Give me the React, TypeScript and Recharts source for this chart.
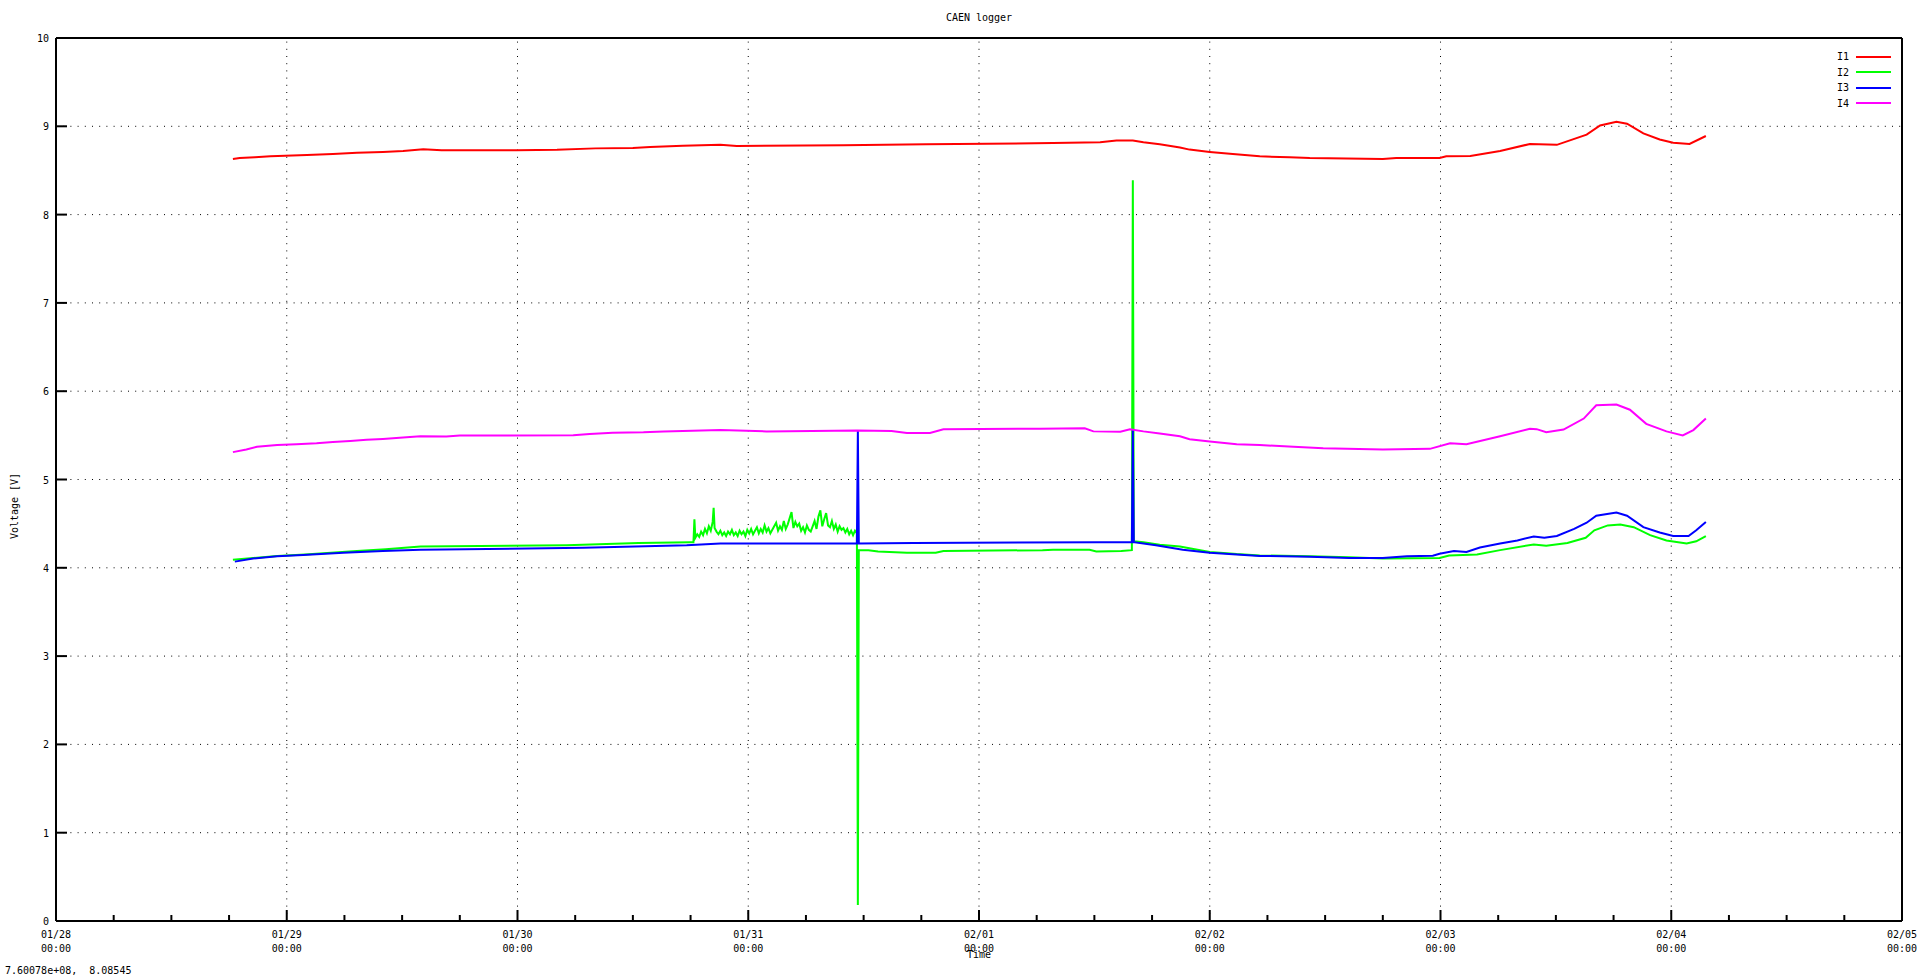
import { LineChart, Line, XAxis, YAxis, ReferenceLine, Legend } from "recharts";

// Time is kept as hours since 01/28 00:00.
const DAY_LABELS = ["01/28", "01/29", "01/30", "01/31", "02/01", "02/02", "02/03", "02/04", "02/05"];
const X_TICKS = [
  0, 6, 12, 18, 24, 30, 36, 42, 48, 54, 60, 66, 72, 78, 84, 90, 96, 102, 108, 114, 120,
  126, 132, 138, 144, 150, 156, 162, 168, 174, 180, 186, 192,
];
const Y_TICKS = [0, 1, 2, 3, 4, 5, 6, 7, 8, 9, 10];
const DAY_GRID = [24, 48, 72, 96, 120, 144, 168];
const VOLT_GRID = [1, 2, 3, 4, 5, 6, 7, 8, 9];

const i1Time = [
  18.4, 19.1, 20.7, 22.3, 26.1, 28.8, 31.3, 34.0, 36.1, 38.2, 40.1, 47.9, 52.1, 56.1, 60.0, 61.8,
  65.2, 69.1, 70.8, 81.9, 90.5, 103.7, 108.6, 110.3, 112.0, 113.1, 114.8, 116.9, 117.9, 120.0,
  122.4, 125.2, 128.3, 130.4, 138.0, 139.4, 143.9, 144.6, 147.1, 150.2, 153.3, 156.1, 159.2,
  160.6, 162.3, 163.4, 165.1, 166.8, 168.2, 169.9, 171.6,
];
const i1Volt = [
  8.63, 8.64, 8.65, 8.66, 8.675, 8.686, 8.7, 8.71, 8.72, 8.74, 8.73, 8.73, 8.735, 8.75, 8.755,
  8.765, 8.78, 8.79, 8.777, 8.785, 8.796, 8.81, 8.82, 8.838, 8.84, 8.82, 8.796, 8.76, 8.736, 8.71,
  8.686, 8.66, 8.65, 8.64, 8.63, 8.64, 8.64, 8.66, 8.665, 8.72, 8.8, 8.79, 8.906, 9.01, 9.05,
  9.03, 8.92, 8.85, 8.815, 8.8, 8.89,
];

const i2Time = [
  18.4, 23.0, 25.9, 31.3, 34.3, 37.9, 53.1, 60.6, 66.0,
  66.3, 66.4, 66.5, 66.7, 66.9, 67.1, 67.3, 67.5, 67.7, 67.9, 68.1, 68.3, 68.4, 68.5, 68.7, 68.9,
  69.1, 69.3, 69.5, 69.7, 69.9, 70.1, 70.3, 70.5, 70.7, 70.9, 71.1, 71.3, 71.5, 71.7, 71.9, 72.1,
  72.3, 72.5, 72.7, 72.9, 73.1, 73.3, 73.5, 73.7, 73.9, 74.1, 74.3, 74.5, 74.7, 74.9, 75.1, 75.3,
  75.5, 75.7, 75.9, 76.1, 76.3, 76.5, 76.7, 76.9, 77.1, 77.3, 77.5, 77.7, 77.9, 78.1, 78.3, 78.5,
  78.7, 78.9, 79.1, 79.3, 79.5, 79.7, 79.9, 80.1, 80.3, 80.5, 80.7, 80.9, 81.1, 81.3, 81.5, 81.7,
  81.9, 82.1, 82.3, 82.5, 82.7, 82.9, 83.1,
  83.3, 83.4, 83.5, 84.5, 85.5, 88.5, 91.5, 92.3, 102.6, 103.7, 107.5, 108.2, 110.8, 111.9, 112.0,
  112.1, 113.1, 114.8, 116.9, 120.0, 122.8, 125.2, 130.4, 134.5, 138.0, 143.9, 144.9, 147.8,
  150.2, 153.7, 155.0, 157.2, 159.1, 160.0, 161.4, 162.7, 164.1, 165.8, 167.5, 169.6, 170.6, 171.6,
];
const i2Volt = [
  4.09, 4.135, 4.15, 4.19, 4.21, 4.24, 4.255, 4.28, 4.29,
  4.29, 4.55, 4.34, 4.38, 4.35, 4.41, 4.37, 4.44, 4.39, 4.47, 4.42, 4.52, 4.68, 4.45, 4.41, 4.38,
  4.42, 4.37, 4.4, 4.36, 4.41, 4.38, 4.43, 4.37, 4.4, 4.36, 4.42, 4.38, 4.41, 4.36, 4.43, 4.39,
  4.44, 4.38, 4.42, 4.46, 4.39, 4.44, 4.4, 4.48, 4.41, 4.45, 4.39, 4.43, 4.47, 4.51, 4.42, 4.47,
  4.43, 4.53, 4.44, 4.49, 4.56, 4.63, 4.45, 4.52, 4.47, 4.5, 4.42, 4.46, 4.4, 4.48, 4.43, 4.41,
  4.47, 4.53, 4.44, 4.58, 4.65, 4.47, 4.55, 4.62, 4.48, 4.46, 4.53, 4.44, 4.49, 4.41, 4.47, 4.43,
  4.45, 4.4, 4.44, 4.38, 4.42, 4.37, 4.42,
  4.39, 0.18, 4.2, 4.2, 4.185, 4.17, 4.17, 4.19, 4.2, 4.205, 4.205, 4.185, 4.19, 4.2, 8.39,
  4.3, 4.29, 4.26, 4.24, 4.18, 4.155, 4.14, 4.13, 4.12, 4.105, 4.11, 4.14, 4.15,
  4.2, 4.265, 4.25, 4.28, 4.34, 4.425, 4.48, 4.49, 4.46, 4.37, 4.31, 4.275, 4.3, 4.36,
];

const i3Time = [
  18.6, 20.5, 23.0, 25.7, 29.9, 34.0, 37.9, 54.8, 65.6, 69.1, 83.3, 83.4, 83.5, 89.2, 108.3,
  111.9, 112.0, 112.1, 114.4, 117.2, 120.0, 122.8, 125.2, 130.4, 134.5, 138.0, 140.5, 143.2,
  143.9, 145.4, 146.7, 148.1, 150.2, 152.0, 153.7, 154.8, 156.1, 157.9, 159.2, 160.2, 162.3,
  163.4, 165.1, 166.8, 168.2, 169.8, 170.6, 171.6,
];
const i3Volt = [
  4.07, 4.105, 4.13, 4.145, 4.17, 4.19, 4.205, 4.227, 4.255, 4.275, 4.275, 5.55, 4.275, 4.28, 4.29,
  4.29, 5.57, 4.29, 4.255, 4.205, 4.17, 4.15, 4.135, 4.125, 4.11, 4.11, 4.13, 4.136,
  4.16, 4.19, 4.18, 4.23, 4.275, 4.31, 4.355, 4.34, 4.36, 4.44, 4.51, 4.59, 4.625,
  4.59, 4.46, 4.4, 4.36, 4.36, 4.425, 4.52,
];

const i4Time = [
  18.4, 19.8, 20.9, 23.0, 25.0, 27.1, 28.8, 30.6, 32.3, 34.0, 36.1, 37.9, 40.6, 42.0, 53.8, 55.5,
  57.9, 61.1, 63.2, 65.2, 69.1, 73.9, 83.3, 86.9, 88.5, 90.9, 92.3, 102.3, 107.0, 107.9, 110.7,
  111.7, 113.1, 114.8, 116.9, 117.9, 120.0, 122.8, 125.2, 128.7, 131.8, 138.0, 142.9, 145.0,
  146.7, 150.2, 153.3, 154.0, 155.0, 156.8, 158.9, 160.2, 162.3, 163.7, 165.4, 167.5, 169.2,
  170.3, 171.6,
];
const i4Volt = [
  5.31, 5.34, 5.37, 5.39, 5.4, 5.41, 5.425, 5.436, 5.45, 5.46, 5.475, 5.49, 5.487, 5.497, 5.5, 5.515,
  5.53, 5.535, 5.545, 5.55, 5.56, 5.545, 5.556, 5.55, 5.526, 5.526, 5.57, 5.575, 5.58, 5.545, 5.54,
  5.57, 5.545, 5.52, 5.49, 5.455, 5.43, 5.4, 5.39, 5.37, 5.355, 5.34, 5.347, 5.41,
  5.4, 5.49, 5.575, 5.57, 5.535, 5.565, 5.69, 5.84, 5.85, 5.79, 5.63, 5.545, 5.5,
  5.56, 5.69,
];

const zip = (ts: number[], vs: number[]) => ts.map((t, i) => ({ t, v: vs[i] }));

const SERIES = [
  { name: "I1", color: "#ff0000", data: zip(i1Time, i1Volt) },
  { name: "I2", color: "#00ff00", data: zip(i2Time, i2Volt) },
  { name: "I3", color: "#0000ff", data: zip(i3Time, i3Volt) },
  { name: "I4", color: "#ff00ff", data: zip(i4Time, i4Volt) },
];

const FONT = "'DejaVu Sans Mono', monospace";
const MAJOR = 11;
const MINOR = 6;

// Axes get 1px of room (0 would hide them); ticks point inward like gnuplot.
function BottomTick({ x, y, payload }: any) {
  const h = payload.value;
  const major = h % 24 === 0;
  return (
    <g>
      <line x1={x} x2={x} y1={y} y2={y - (major ? MAJOR : MINOR)} stroke="#000" strokeWidth={2} />
      {major && (
        <text x={x} y={y} textAnchor="middle" fontFamily={FONT} fontSize={10} fill="#000">
          <tspan x={x} dy={17}>{DAY_LABELS[h / 24]}</tspan>
          <tspan x={x} dy={14}>00:00</tspan>
        </text>
      )}
    </g>
  );
}

function TopTick({ x, y, payload }: any) {
  const major = payload.value % 24 === 0;
  return <line x1={x} x2={x} y1={y} y2={y + (major ? MAJOR : MINOR)} stroke="#000" strokeWidth={2} />;
}

function LeftTick({ x, y, payload }: any) {
  return (
    <g>
      <line x1={x} x2={x + MAJOR} y1={y} y2={y} stroke="#000" strokeWidth={2} />
      <text x={x - 7} y={y + 4} textAnchor="end" fontFamily={FONT} fontSize={10} fill="#000">
        {payload.value}
      </text>
    </g>
  );
}

function RightTick({ x, y }: any) {
  return <line x1={x} x2={x - MAJOR} y1={y} y2={y} stroke="#000" strokeWidth={2} />;
}

function LegendBox({ payload }: any) {
  return (
    <div style={{ fontFamily: FONT, fontSize: 10, color: "#000" }}>
      {(payload || []).map((e: any) => (
        <div key={e.value} style={{ display: "flex", alignItems: "center", height: 15.5 }}>
          <span style={{ width: 23, textAlign: "right" }}>{e.value}</span>
          <span style={{ width: 35, height: 2, marginLeft: 7, background: e.color }} />
        </div>
      ))}
    </div>
  );
}

const text: React.CSSProperties = {
  position: "absolute",
  fontFamily: FONT,
  fontSize: 10,
  color: "#000",
  whiteSpace: "pre",
  lineHeight: "12px",
};

const axisLine = { stroke: "#000", strokeWidth: 2 };

export default function App() {
  return (
    <div style={{ position: "absolute", left: 0, top: 0, width: 1920, height: 977, background: "#fff" }}>
      <LineChart width={1920} height={977} margin={{ top: 37, right: 17, bottom: 55, left: 55 }}>
        <XAxis
          xAxisId={0}
          dataKey="t"
          type="number"
          domain={[0, 192]}
          ticks={X_TICKS}
          interval={0}
          height={1}
          tickSize={0}
          tickMargin={0}
          tick={BottomTick}
          axisLine={axisLine}
          allowDataOverflow
        />
        <XAxis
          xAxisId="top"
          orientation="top"
          dataKey="t"
          type="number"
          domain={[0, 192]}
          ticks={X_TICKS}
          interval={0}
          height={1}
          tickSize={0}
          tickMargin={0}
          tick={TopTick}
          axisLine={axisLine}
        />
        <YAxis
          yAxisId={0}
          type="number"
          domain={[0, 10]}
          ticks={Y_TICKS}
          interval={0}
          width={1}
          tickSize={0}
          tickMargin={0}
          tick={LeftTick}
          axisLine={axisLine}
          allowDataOverflow
        />
        <YAxis
          yAxisId="right"
          orientation="right"
          type="number"
          domain={[0, 10]}
          ticks={Y_TICKS}
          interval={0}
          width={1}
          tickSize={0}
          tickMargin={0}
          tick={RightTick}
          axisLine={axisLine}
        />
        {DAY_GRID.map((d) => (
          <ReferenceLine key={"x" + d} x={d} stroke="#000" strokeWidth={1} strokeDasharray="1 6.2" />
        ))}
        {VOLT_GRID.map((v) => (
          <ReferenceLine key={"y" + v} y={v} stroke="#000" strokeWidth={1} strokeDasharray="1 6.2" />
        ))}
        {SERIES.map((s) => (
          <Line
            key={s.name}
            name={s.name}
            data={s.data}
            dataKey="v"
            type="linear"
            stroke={s.color}
            strokeWidth={2}
            dot={false}
            activeDot={false}
            isAnimationActive={false}
          />
        ))}
        <Legend
          layout="vertical"
          align="center"
          verticalAlign="middle"
          wrapperStyle={{ left: 1826, top: 49, width: 70 }}
          content={LegendBox}
        />
      </LineChart>
      <div style={{ ...text, left: 979, top: 12, transform: "translateX(-50%)" }}>CAEN logger</div>
      <div style={{ ...text, left: 979, top: 949, transform: "translateX(-50%)" }}>Time</div>
      <div
        style={{ ...text, left: 15, top: 506, transform: "translate(-50%, -50%) rotate(-90deg)" }}
      >
        Voltage [V]
      </div>
      <div style={{ ...text, left: 5, top: 965 }}>7.60078e+08,  8.08545</div>
    </div>
  );
}
